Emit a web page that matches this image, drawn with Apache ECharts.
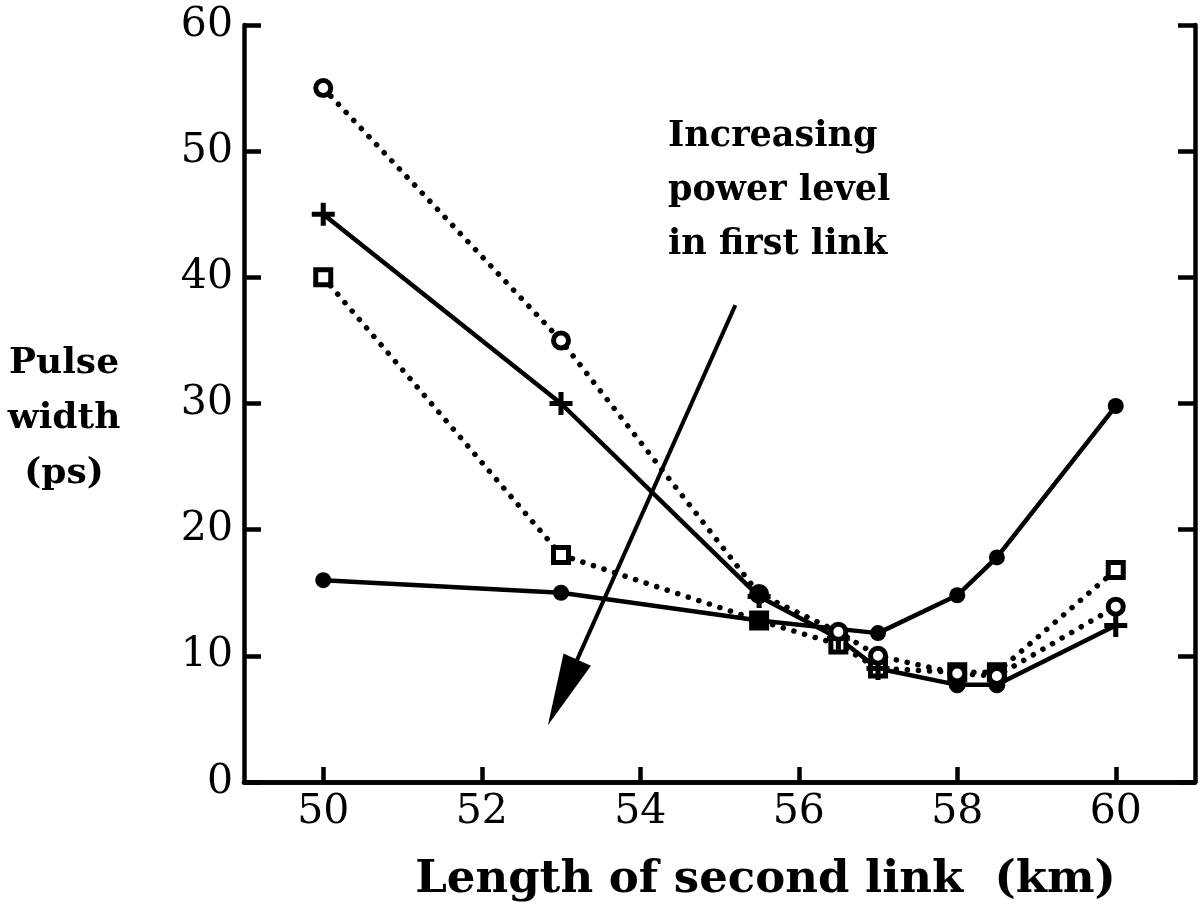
<!DOCTYPE html>
<html>
<head>
<meta charset="utf-8">
<script src="https://cdn.jsdelivr.net/npm/echarts@6/dist/echarts.min.js"></script>
<style>
  html, body { margin: 0; padding: 0; background: #fff; }
  #chart { width: 1200px; height: 916px; }
</style>
</head>
<body>
<div id="chart"></div>
<script>
// ---- data ----
const xTicks = [50, 52, 54, 56, 58, 60];

const xOpenCircle = [50, 53, 55.5, 56.5, 57, 58, 58.5, 60];
const yOpenCircle = [55, 35, 14.9, 11.9, 10.0, 8.6, 8.4, 13.9];

const xPlus = [50, 53, 55.5, 56.5, 57, 58, 58.5, 60];
const yPlus = [45, 30, 14.7, 11.4, 9.0, 7.7, 7.7, 12.4];

const xOpenSquare = [50, 53, 55.5, 56.5, 57, 58, 58.5, 60];
const yOpenSquare = [40, 18, 12.8, 10.9, 9.0, 8.7, 8.7, 16.8];

const xFilledCircle = [50, 53, 55.5, 57, 58, 58.5, 60];
const yFilledCircle = [16, 15, 12.8, 11.8, 14.8, 17.8, 29.8];

// arrow annotation (data coordinates): start, and centre of the arrow head
const arrowStart = [55.2, 37.8];
const arrowHead = [53.02, 7.1];

const annotationText = 'Increasing\npower level\nin first link';
const xTitle = 'Length of second link  (km)';
const yTitle = 'Pulse\nwidth\n(ps)';

// ---- chart ----
const FONT = 'DejaVu Serif';
const pts = (xs, ys) => xs.map((x, i) => [x, ys[i]]);

const dotted = { color: '#000', width: 5.5, type: [0.1, 11], cap: 'round' };
const solid = { color: '#000', width: 4.5, cap: 'round', join: 'round' };
const openStyle = { color: '#fff', borderColor: '#000', borderWidth: 5 };
const plusPath = 'path://M-1.1,-5H1.1V-1.1H5V1.1H1.1V5H-1.1V1.1H-5V-1.1H-1.1Z';

// points where overlapping markers print as solid blobs in the reference
function withFilled(data, idxList, extra) {
  return data.map((d, i) => idxList.indexOf(i) >= 0
    ? Object.assign({ value: d, itemStyle: { color: '#000', borderColor: '#000' } }, extra || {})
    : d);
}

const chart = echarts.init(document.getElementById('chart'), null, { renderer: 'canvas' });

const option = {
  animation: false,
  backgroundColor: '#fff',
  grid: { left: 244, right: 5, top: 25, bottom: 134, outerBoundsMode: 'none', containLabel: false },
  xAxis: [
    {
      type: 'value', min: 49, max: 61,
      axisLine: { show: true, lineStyle: { color: '#000', width: 4.5 } },
      axisTick: { show: true, inside: true, length: 15, customValues: xTicks, lineStyle: { color: '#000', width: 4.5 } },
      axisLabel: { show: true, customValues: xTicks, color: '#000', fontFamily: FONT, fontSize: 41, margin: 10 },
      splitLine: { show: false },
      name: xTitle, nameLocation: 'middle', nameGap: 76,
      nameTextStyle: { color: '#000', fontFamily: FONT, fontSize: 45, fontWeight: 'bold', padding: [0, 0, 0, 92] }
    },
    {
      type: 'value', min: 49, max: 61, position: 'top',
      axisLine: { show: true, lineStyle: { color: '#000', width: 4.5 } },
      axisTick: { show: false }, axisLabel: { show: false }, splitLine: { show: false }
    }
  ],
  yAxis: [
    {
      type: 'value', min: 0, max: 60, interval: 10,
      axisLine: { show: true, lineStyle: { color: '#000', width: 4.5 } },
      axisTick: { show: true, inside: true, length: 17, lineStyle: { color: '#000', width: 4.5 } },
      axisLabel: { color: '#000', fontFamily: FONT, fontSize: 41, margin: 11 },
      splitLine: { show: false }
    },
    {
      type: 'value', min: 0, max: 60, interval: 10, position: 'right',
      axisLine: { show: true, lineStyle: { color: '#000', width: 4.5 } },
      axisTick: { show: true, inside: true, length: 17, lineStyle: { color: '#000', width: 4.5 } },
      axisLabel: { show: false }, splitLine: { show: false }
    }
  ],
  series: [
    {
      type: 'line', name: 'filled circle',
      data: pts(xFilledCircle, yFilledCircle),
      symbol: 'circle', symbolSize: 16, showAllSymbol: true,
      itemStyle: { color: '#000' }, lineStyle: solid
    },
    {
      type: 'line', name: 'open square',
      data: withFilled(pts(xOpenSquare, yOpenSquare), [2, 5, 6]),
      symbol: 'rect', symbolSize: 15, showAllSymbol: true,
      itemStyle: openStyle, lineStyle: dotted
    },
    {
      type: 'line', name: 'plus',
      data: withFilled(pts(xPlus, yPlus), [5, 6], { symbol: 'circle', symbolSize: 16 }),
      symbol: plusPath, symbolSize: 23, showAllSymbol: true,
      itemStyle: { color: '#000' }, lineStyle: solid
    },
    {
      type: 'line', name: 'open circle',
      data: withFilled(pts(xOpenCircle, yOpenCircle), [2]),
      symbol: 'circle', symbolSize: 15, showAllSymbol: true,
      itemStyle: openStyle, lineStyle: dotted,
      markLine: {
        silent: true,
        symbol: ['none', 'triangle'],
        symbolSize: [30, 72],
        label: { show: false },
        lineStyle: { color: '#000', width: 4, type: 'solid' },
        itemStyle: { color: '#000' },
        data: [[{ coord: arrowStart }, { coord: arrowHead }]]
      }
    }
  ],
  graphic: [
    {
      type: 'text', left: 668, top: 110,
      style: { text: annotationText, fill: '#000', font: 'bold 35px "DejaVu Serif"', lineHeight: 54 }
    },
    {
      type: 'text',
      style: { x: 64, y: 336, text: yTitle, fill: '#000', font: 'bold 36px "DejaVu Serif"', lineHeight: 55, align: 'center', verticalAlign: 'top' }
    }
  ]
};

chart.setOption(option);
</script>
</body>
</html>
